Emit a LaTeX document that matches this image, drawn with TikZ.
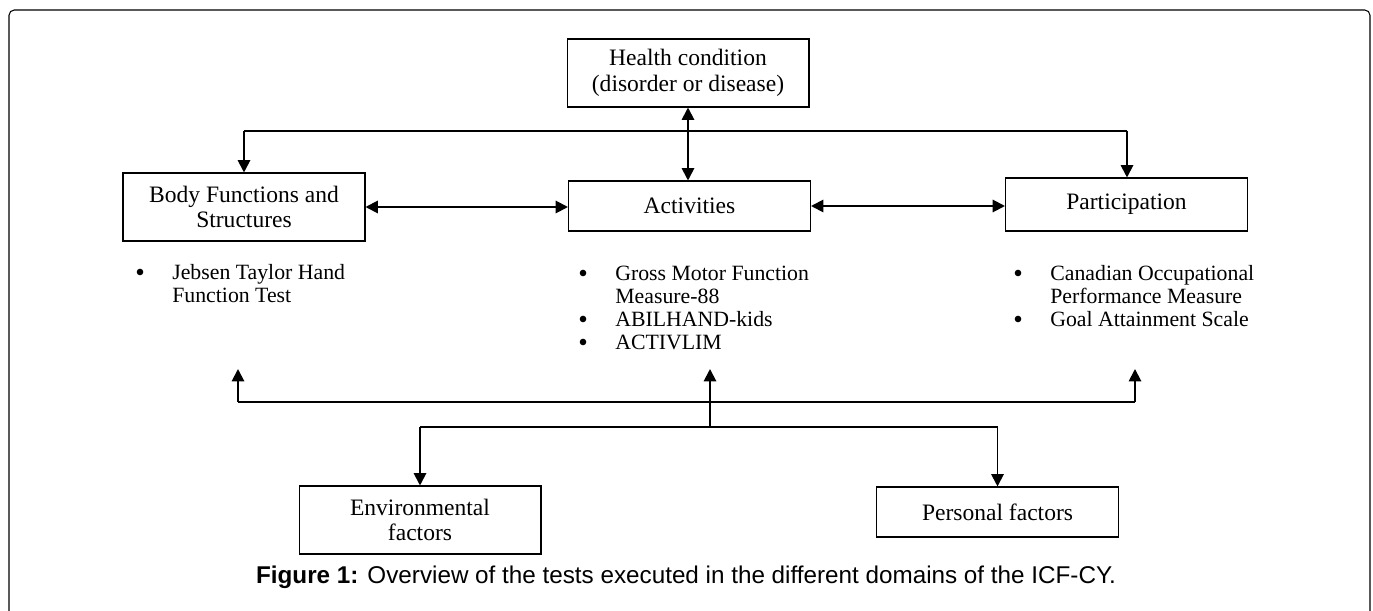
\documentclass[tikz,border=0pt]{standalone}
\usepackage{fontspec}
\setmainfont{Liberation Serif}
\newfontfamily\capfont{Liberation Sans}
\usetikzlibrary{arrows.meta,positioning,calc}
\newcommand{\itm}{\makebox[0.74cm][l]{\smash{\raisebox{-0.08em}{\scalebox{1.25}{\textbullet}}}}}
\newcommand{\ind}{\hspace*{0.74cm}}

\begin{document}
\begin{tikzpicture}[
  x=0.02cm, y=-0.02cm,
  box/.style={draw, line width=0.6pt, align=center, inner sep=0pt,
    minimum width=4.84cm, font=\fontsize{13.4}{14.6}\selectfont},
  tests/.style={align=left, anchor=north west, inner sep=0pt,
    font=\fontsize{12.4}{13.1}\selectfont},
  link/.style={line width=1.1pt},
  arr/.style={link, -{Triangle[length=7pt,width=7pt]}},
  both/.style={link, {Triangle[length=7pt,width=7pt]}-{Triangle[length=7pt,width=7pt]}}
]
\useasboundingbox (0,0) rectangle (1373,611);
\draw[line width=0.6pt, rounded corners=3pt] (9,10) rectangle (1370,700);

% domains of the ICF-CY
\node[box, minimum height=1.36cm] (health) at (688,73) {Health condition\\(disorder or disease)};
\node[box, minimum height=1.36cm] (body) at (244,207) {Body Functions and\\Structures};
\node[box, minimum height=1.0cm] (act) at (689.5,206) {Activities};
\node[box, minimum height=1.06cm] (part) at (1126.5,204.5) {Participation};
\node[box, minimum height=1.36cm] (env) at (420,520) {Environmental\\factors};
\node[box, minimum height=1.0cm] (pers) at (997.5,512) {Personal factors};

% tests used in each domain
\node[tests] (bodylist) at (135,264) {\itm Jebsen Taylor Hand\\\ind Function Test};
\node[tests] (actlist) at (578,266) {\itm Gross Motor Function\\\ind Measure-88\\\itm ABILHAND-kids\\\itm ACTIVLIM};
\node[tests] (partlist) at (1013,265) {\itm Canadian Occupational\\\ind Performance Measure\\\itm Goal Attainment Scale};

% top bus
\coordinate (tl) at (244,131);
\coordinate (tr) at (1127,131);
\draw[link] (tl) -- (tr);
\draw[arr] (tl) -- (body.north);
\draw[arr] (tr) -- (tr |- part.north);
\draw[both] (health.south) -- (health.south |- act.north);
\draw[both] (body.east) -- (body.east -| act.west);
\draw[both] (act.east) -- (act.east -| part.west);

% bottom buses
\coordinate (bl) at (238,402);
\coordinate (br) at (1135,402);
\coordinate (ul) at (238,369);
\coordinate (ur) at (1135,369);
\coordinate (um) at (710,369);
\coordinate (lm) at (710,427);
\coordinate (ll) at (420,427);
\coordinate (lr) at (997.5,427);
\draw[link] (bl) -- (br);
\draw[arr] (bl) -- (ul);
\draw[arr] (br) -- (ur);
\draw[arr] (lm) -- (um);
\draw[link] (ll) -- (lr);
\draw[arr] (ll) -- (env.north);
\draw[arr] (lr) -- (pers.north);

\node[inner sep=0pt, font=\capfont\fontsize{13.8}{15}\selectfont] (caption) at (686,577)
  {\textbf{Figure 1:} Overview of the tests executed in the different domains of the ICF-CY.};
\end{tikzpicture}
\end{document}
